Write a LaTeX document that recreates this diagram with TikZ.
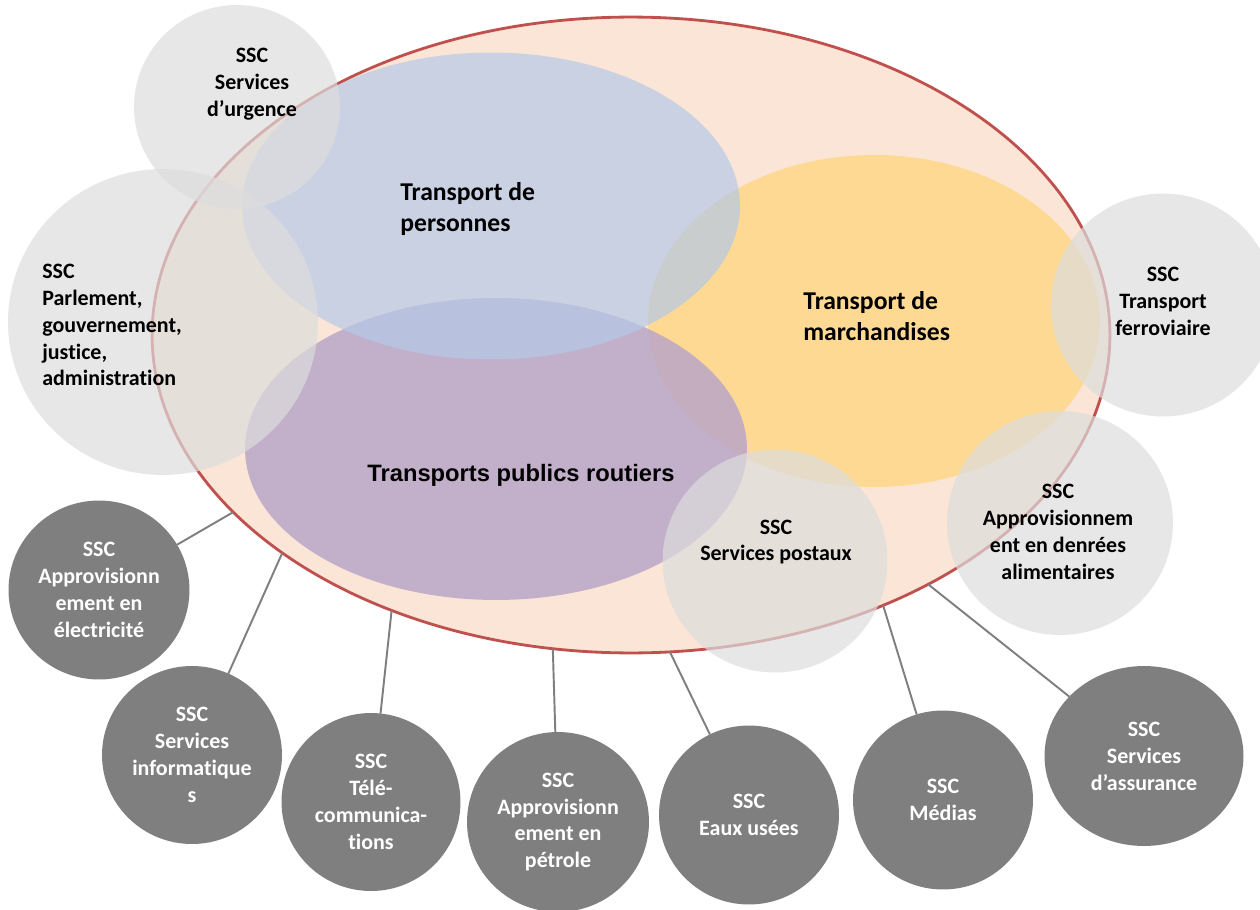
\documentclass[tikz,border=0pt]{standalone}
\usepackage{fontspec}
\setmainfont{Carlito}[Ligatures=NoCommon]
\newfontfamily\arialfont{Liberation Sans}
\usetikzlibrary{shapes.geometric}
\definecolor{peach}{HTML}{FBE5D6}
\definecolor{bordred}{HTML}{C0504D}
\definecolor{blueE}{HTML}{B4C9E8}
\definecolor{yellowE}{HTML}{FDD993}
\definecolor{purpleE}{HTML}{B9A6C7}
\definecolor{lightgr}{HTML}{DDDDDD}
\definecolor{darkgr}{HTML}{7F7F7F}
\newcommand\sscfont{\bfseries\fontsize{12.5pt}{15.3pt}\selectfont}
\newcommand\titlefont{\bfseries\fontsize{14.6pt}{18pt}\selectfont}
\begin{document}
\begin{tikzpicture}[x=0.02cm,y=-0.02cm,
  shp/.style={shape=ellipse, inner sep=0pt, outer sep=0pt},
  bigell/.style={shp, fill=peach, draw=bordred, line width=1.6pt},
  colell/.style={shp, fill=#1},
  lightc/.style={shp, fill=lightgr, fill opacity=0.7},
  darkc/.style={shp, fill=darkgr, text=white, align=center, font=\sscfont},
  lbl/.style={font=\sscfont, text=black, align=center, inner sep=0pt},
  biglbl/.style={font=\titlefont, text=black, align=left, inner sep=0pt},
  conn/.style={draw=darkgr, line width=1.1pt}]
\useasboundingbox (0,0) rectangle (1260,909);
\fill[white] (0,0) rectangle (1260,909);
% main ellipse
\node[bigell, minimum width=19.16cm, minimum height=12.72cm] (big) at (631,335) {};
% coloured ellipses
\node[colell=yellowE, minimum width=9.04cm, minimum height=6.64cm] (march) at (874,321) {};
\node[colell=purpleE, fill opacity=0.85, minimum width=10.04cm, minimum height=6.04cm] (routiers) at (496,449) {};
\node[colell=blueE, fill opacity=0.7, minimum width=9.96cm, minimum height=6.14cm] (pers) at (491,206) {};
% light grey circles
\node[lightc, minimum width=4.12cm, minimum height=4.08cm] (urg) at (237,107) {};
\node[lightc, minimum width=6.2cm, minimum height=6.12cm] (parl) at (163,322) {};
\node[lightc, minimum width=4.48cm, minimum height=4.46cm] (ferro) at (1163,305) {};
\node[lightc, minimum width=4.52cm, minimum height=4.48cm] (denr) at (1060,523) {};
\node[lightc, minimum width=4.5cm, minimum height=4.46cm] (post) at (775,561) {};
% dark grey circles
\node[darkc, minimum width=3.62cm, minimum height=3.58cm] (elec) at (99,590) {SSC\\Approvisionn\\ement en\\électricité};
\node[darkc, minimum width=3.6cm, minimum height=3.56cm] (info) at (192,755) {SSC\\Services\\informatique\\s};
\node[darkc, minimum width=3.58cm, minimum height=3.56cm] (tele) at (371,802) {SSC\\Télé-\\communica-\\tions};
\node[darkc, minimum width=3.64cm, minimum height=3.6cm] (petr) at (558,822) {SSC\\Approvisionn\\ement en\\pétrole};
\node[darkc, minimum width=3.6cm, minimum height=3.58cm] (eaux) at (749,815) {SSC\\Eaux usées};
\node[darkc, minimum width=3.6cm, minimum height=3.58cm] (medi) at (943,800) {SSC\\Médias};
\node[darkc, minimum width=3.98cm, minimum height=3.6cm] (assu) at (1144,756) {SSC\\Services\\d’assurance};
% connectors
\draw[conn] (big.204) -- (elec);
\draw[conn] (big.212.5) -- (info);
\draw[conn] (big.229.3) -- (tele);
\draw[conn] (big.256.9) -- (petr);
\draw[conn] (big.277.9) -- (eaux);
\draw[conn] (big.313.5) -- (medi);
\draw[conn] (big.320.1) -- (assu);
% labels
\node[biglbl, anchor=west] (persT) at (400,209) {Transport de\\personnes};
\node[biglbl, anchor=west] (marchT) at (803,316) {Transport de\\marchandises};
\node[font={\arialfont\bfseries\fontsize{13.5pt}{16pt}\selectfont}, inner sep=0pt] (routT) at (521,475) {Transports publics routiers};
\node[lbl] (urgT) at (252,84) {SSC\\Services\\d’urgence};
\node[lbl, align=left, anchor=west] (parlT) at (42,325) {SSC\\Parlement,\\gouvernement,\\justice,\\administration};
\node[lbl] (ferroT) at (1163,301) {SSC\\Transport\\ferroviaire};
\node[lbl] (denrT) at (1058,532) {SSC\\Approvisionnem\\ent en denrées\\alimentaires};
\node[lbl] (postT) at (776,542) {SSC\\Services postaux};
\end{tikzpicture}
\end{document}
